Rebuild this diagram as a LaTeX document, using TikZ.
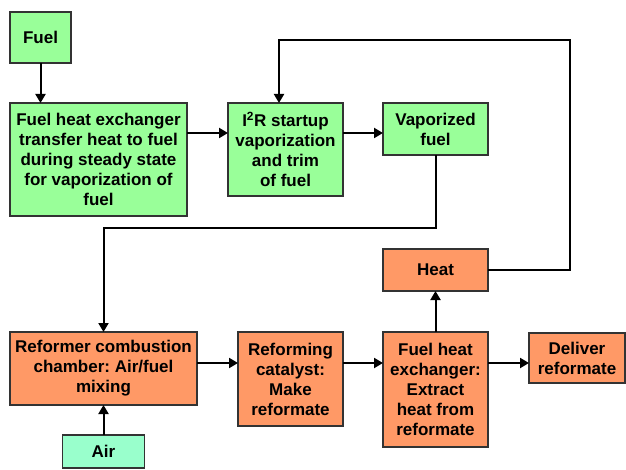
\documentclass[tikz,border=0pt]{standalone}
\usepackage{fontspec}
\setmainfont{Liberation Sans}
\usetikzlibrary{positioning,arrows.meta}
\definecolor{fuelgreen}{HTML}{99FF99}
\definecolor{reforange}{HTML}{FF9966}
\definecolor{airmint}{HTML}{99FFCC}
\frenchspacing

\begin{document}
\begin{tikzpicture}[
  x=1pt, y=-1pt,
  box/.style={draw=black!80, line width=1.1pt, align=center, inner sep=0pt, outer sep=0pt, font=\fontsize{17}{20}\selectfont\bfseries},
  gbox/.style={box, fill=fuelgreen},
  obox/.style={box, fill=reforange},
  abox/.style={box, fill=airmint},
  arr/.style={-{Triangle[length=9pt,width=10pt]}, line width=2pt}
]
\useasboundingbox (0,0) rectangle (626,470);

% fuel side
\node[gbox, minimum width=61, minimum height=51] (Fuel) at (40.5,37.5) {Fuel};
\node[gbox, minimum width=177, minimum height=113] (FuelHX) at (98.5,159.5) {Fuel heat exchanger\\transfer heat to fuel\\during steady state\\for vaporization of\\fuel};
\node[gbox, minimum width=115, minimum height=93] (IsqR) at (285.5,149.5) {I\textsuperscript{2}R startup\\vaporization\\and trim\\of fuel};
\node[gbox, minimum width=105, minimum height=52] (VapFuel) at (435.5,129) {Vaporized\\fuel};

% reformer side
\node[obox, minimum width=105, minimum height=42] (Heat) at (435.5,270) {Heat};
\node[obox, minimum width=187, minimum height=73] (Combustion) at (103.5,368.5) {Reformer combustion\\chamber: Air/fuel\\mixing};
\node[obox, minimum width=105, minimum height=94] (Catalyst) at (290.5,379) {Reforming\\catalyst:\\Make\\reformate};
\node[obox, minimum width=105, minimum height=115] (FuelHX2) at (435.5,389.5) {Fuel heat\\exchanger:\\Extract\\heat from\\reformate};
\node[obox, minimum width=96, minimum height=50] (Deliver) at (577,358) {Deliver\\reformate};
\node[abox, minimum width=82, minimum height=33] (Air) at (103.5,451.5) {Air};

% routing points
\coordinate (row1) at (0,133);
\coordinate (row2) at (0,363);
\coordinate (loopR) at (570,40);
\coordinate (loopL) at (279,40);
\coordinate (dropL) at (103.5,228);

\draw[arr] (Fuel.south) -- (Fuel.south |- FuelHX.north);
\draw[arr] (FuelHX.east |- row1) -- (IsqR.west |- row1);
\draw[arr] (IsqR.east |- row1) -- (VapFuel.west |- row1);
\draw[arr] (VapFuel.south) |- (dropL) -- (dropL |- Combustion.north);
\draw[arr] (Air.north) -- (Combustion.south);
\draw[arr] (Combustion.east |- row2) -- (Catalyst.west |- row2);
\draw[arr] (Catalyst.east |- row2) -- (FuelHX2.west |- row2);
\draw[arr] (FuelHX2.east |- row2) -- (Deliver.west |- row2);
\draw[arr] (FuelHX2.north) -- (Heat.south);
\draw[arr] (Heat.east) -| (loopR) -- (loopL) -- (loopL |- IsqR.north);
\end{tikzpicture}
\end{document}
